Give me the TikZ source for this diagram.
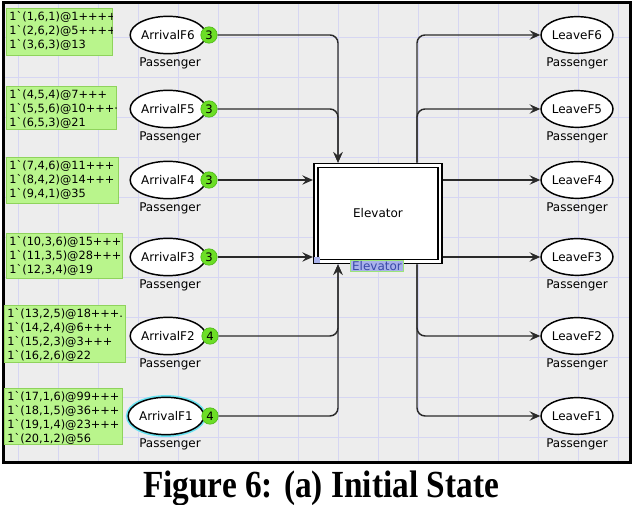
\documentclass[tikz,border=0pt]{standalone}
\usepackage{fontspec}
\setmainfont{Liberation Serif}
\newfontfamily\cpn{DejaVu Sans}
\usetikzlibrary{shapes.geometric,arrows.meta,calc}
\definecolor{bg}{HTML}{EDEDED}
\definecolor{gridc}{HTML}{D6D6F2}
\definecolor{markfill}{HTML}{B9F58C}
\definecolor{markdraw}{HTML}{8FD35C}
\definecolor{tokfill}{HTML}{6CDE26}
\definecolor{tokdraw}{HTML}{4DB817}
\definecolor{arcc}{HTML}{2A2A2A}
\definecolor{glow}{HTML}{6AE4F2}
\definecolor{labfill}{HTML}{A9B2EA}
\definecolor{labtext}{HTML}{3A49A8}
\definecolor{labglow}{HTML}{9BE57A}
\begin{document}
\begin{tikzpicture}[x=0.75pt,y=-0.75pt,
  place/.style={ellipse, draw=black, line width=1.1pt, fill=white, minimum width=52pt, minimum height=28pt, inner sep=0pt, font=\cpn\fontsize{9}{10}\selectfont},
  leave/.style={place, minimum width=54pt, minimum height=27.5pt},
  token/.style={circle, fill=tokfill, draw=tokdraw, line width=0.5pt, minimum size=12.3pt, inner sep=0pt, font=\cpn\fontsize{8.7}{9}\selectfont},
  ptype/.style={font=\cpn\fontsize{9}{10}\selectfont, inner sep=0pt},
  markbox/.style={anchor=north west, fill=markfill, draw=markdraw, line width=0.6pt, inner sep=0pt},
  marktext/.style={anchor=north west, align=left, inner xsep=2.4pt, inner ysep=2.4pt, font=\cpn\fontsize{8.5}{10.5}\selectfont},
  trans/.style={rectangle, draw=black, fill=white, line width=1.2pt, double=white, double distance=1.8pt, minimum width=93.4pt, minimum height=72pt, inner sep=0pt, outer sep=2.1pt, font=\cpn\fontsize{9}{10}\selectfont},
  arc/.style={draw=arcc, line width=1.1pt, rounded corners=6pt, -{Stealth[length=8pt,width=7pt,inset=3pt]}},
]
\useasboundingbox (0,0) rectangle (633,505);
\fill[white] (0,0) rectangle (633,505);
\fill[bg] (3,3) rectangle (630,463);
\foreach \x in {18,58,...,618} \draw[gridc, line width=0.75pt] (\x,4.5) -- (\x,461.5);
\foreach \y in {38,78,...,438} \draw[gridc, line width=0.75pt] (4.5,\y) -- (628.5,\y);
\draw[black, line width=2.25pt] (3,3) rectangle (630,463);

% coordinates of the vertical arc runs
\coordinate (inx) at (338,0);
\coordinate (outx) at (417,0);

% transition
\node[trans] (el) at (378,213.5) {Elevator};
\fill[labfill] (314,257) rectangle (320,263);
\node[fill=labfill, draw=labglow, line width=0.9pt, inner xsep=1.5pt, inner ysep=0.6pt, text=labtext, font=\cpn\fontsize{9}{9}\selectfont] (ellab) at (377,266) {Elevator};

% arrival places
\node[place] (a6) at (168,35) {ArrivalF6};
\node[place] (a5) at (168,109) {ArrivalF5};
\node[place] (a4) at (168,180) {ArrivalF4};
\node[place] (a3) at (168,257) {ArrivalF3};
\node[place] (a2) at (168,336) {ArrivalF2};
\node[place, minimum width=55pt, preaction={draw=glow, line width=3.4pt}] (a1) at (166,416) {ArrivalF1};

\foreach \i/\yy in {6/35,5/109,4/180,3/257,2/336,1/416}
  \node[ptype] (pa\i) at (170,\yy+28.5) {Passenger};

\node[token] (t6) at (209,35) {3};
\node[token] (t5) at (209,109) {3};
\node[token] (t4) at (209,180) {3};
\node[token] (t3) at (209,257) {3};
\node[token] (t2) at (210,336) {4};
\node[token] (t1) at (210,416) {4};

% leave places
\node[leave] (l6) at (577,35) {LeaveF6};
\node[leave] (l5) at (577,109) {LeaveF5};
\node[leave] (l4) at (577,180) {LeaveF4};
\node[leave] (l3) at (577,257) {LeaveF3};
\node[leave] (l2) at (577,336) {LeaveF2};
\node[leave] (l1) at (577,416) {LeaveF1};

\foreach \i/\yy in {6/35,5/109,4/180,3/257,2/336,1/416}
  \node[ptype] (pl\i) at (577,\yy+28.5) {Passenger};

% markings (box, then clipped text)
\foreach \n/\x/\y/\w/\h/\txt in {
  6/6/8/106/47/{1`(1,6,1)@1++++\\1`(2,6,2)@5++++\\1`(3,6,3)@13},
  5/6/86/110/43/{1`(4,5,4)@7+++\\1`(5,5,6)@10+++·\\1`(6,5,3)@21},
  4/6/157/112/46/{1`(7,4,6)@11+++\\1`(8,4,2)@14+++\\1`(9,4,1)@35},
  3/6/233/116/45/{1`(10,3,6)@15+++\\1`(11,3,5)@28+++\\1`(12,3,4)@19},
  2/4/305/121/57/{1`(13,2,5)@18+++.\\1`(14,2,4)@6+++\\1`(15,2,3)@3+++\\1`(16,2,6)@22},
  1/4/388/118/56/{1`(17,1,6)@99+++\\1`(18,1,5)@36+++\\1`(19,1,4)@23+++\\1`(20,1,2)@56}}
{
  \node[markbox, minimum width=\w*0.75pt, minimum height=\h*0.75pt] (m\n) at (\x,\y) {};
  \begin{scope}
    \clip (m\n.north west) rectangle (m\n.south east);
    \node[marktext] (mt\n) at (m\n.north west) {\txt};
  \end{scope}
}

% input arcs
\draw[arc] (t6.east) -| (el.north -| inx);
\draw[arc] (t5.east) -| (el.north -| inx);
\draw[arc] (t4.east) -- (t4.east -| el.west);
\draw[arc] (t3.east) -- (t3.east -| el.west);
\draw[arc] (t2.east) -| (el.south -| inx);
\draw[arc] (t1.east) -| (el.south -| inx);

% output arcs
\draw[arc] (el.north -| outx) |- (l6.west);
\draw[arc] (el.north -| outx) |- (l5.west);
\draw[arc] (l4.west -| el.east) -- (l4.west);
\draw[arc] (l3.west -| el.east) -- (l3.west);
\draw[arc] (el.south -| outx) |- (l2.west);
\draw[arc] (el.south -| outx) |- (l1.west);

% caption
\node[font=\bfseries\fontsize{25}{28}\selectfont, inner sep=0pt] (cap) at (321,488.5) {\scalebox{1}[1.15]{Figure 6: (a) Initial State}};
\end{tikzpicture}
\end{document}
